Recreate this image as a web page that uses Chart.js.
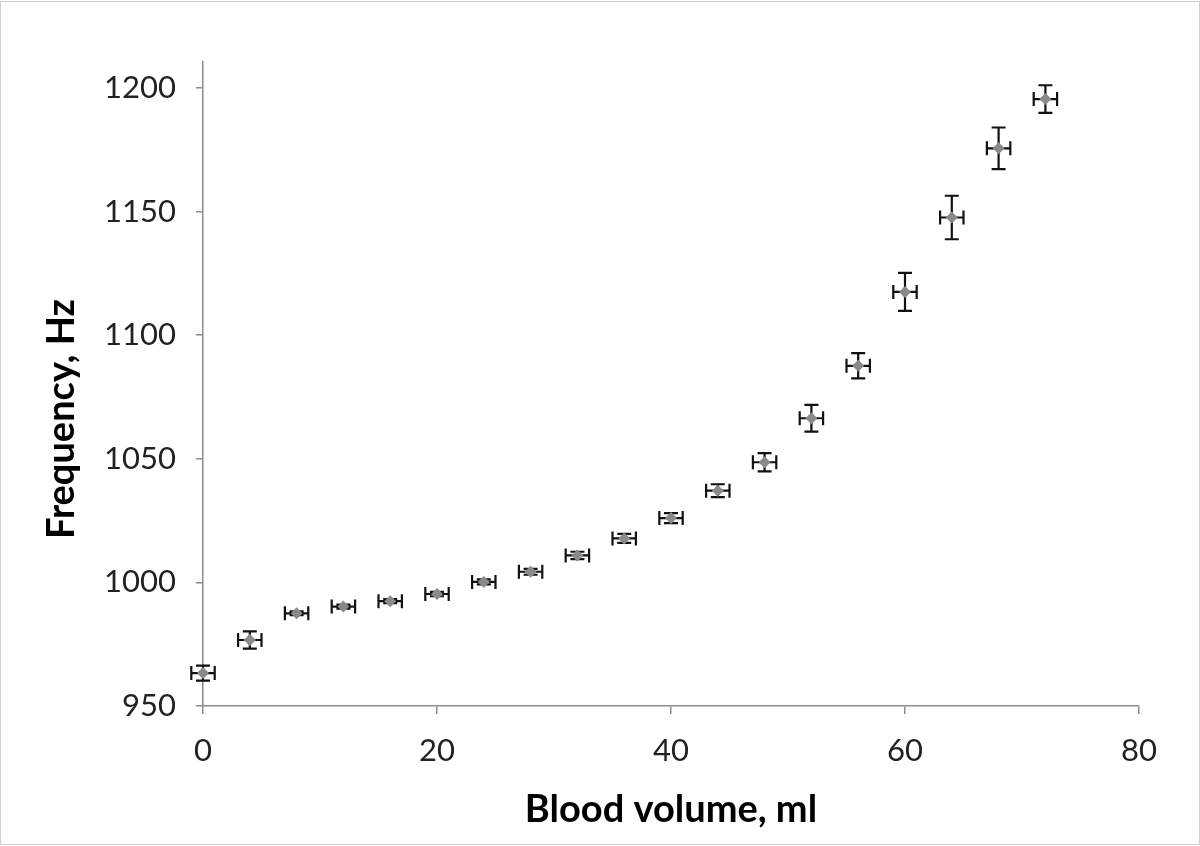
<!DOCTYPE html>
<html>
<head>
<meta charset="utf-8">
<script src="https://cdn.jsdelivr.net/npm/chart.js@4"></script>
<style>
  html, body { margin: 0; padding: 0; background: #fff; }
  canvas { display: block; }
</style>
</head>
<body>
<canvas id="bloodChart" width="1200" height="846"></canvas>
<script>
// Blood volume (ml) vs frequency (Hz), with error bars
const volumes = [0, 4, 8, 12, 16, 20, 24, 28, 32, 36, 40, 44, 48, 52, 56, 60, 64, 68, 72];
const frequencies = [963.3, 976.7, 987.5, 990.2, 992.4, 995.3, 1000.2, 1004.3, 1010.9, 1017.8, 1026.0,
    1037.1, 1048.6, 1066.4, 1087.6, 1117.5, 1147.6, 1175.6, 1195.5];
const freqErrors = [3.0, 3.5, 0.8, 0.8, 0.8, 0.9, 1.0, 1.2, 1.5, 1.8, 2.0,
    2.6, 3.7, 5.4, 5.1, 7.7, 8.8, 8.4, 5.6];
const volumeErrors = [1.0, 1.0, 1.0, 1.0, 1.0, 1.0, 1.0, 1.0, 1.0, 1.0, 1.0,
    1.0, 1.0, 1.0, 1.0, 1.0, 1.0, 1.0, 1.0];
const xTicks = [0, 20, 40, 60, 80];
const yTicks = [950, 1000, 1050, 1100, 1150, 1200];

const xTitle = "Blood volume, ml";
const yTitle = "Frequency, Hz";
const fontFamily = "Lato, 'Liberation Sans', sans-serif";
const axisColor = "#8c8c8c";

const points = volumes.map((v, i) => ({ x: v, y: frequencies[i] }));

// draws the x and y error bars under the points
const errorBars = {
    id: 'errorBars',
    beforeDatasetsDraw(chart) {
        const ctx = chart.ctx;
        const xs = chart.scales.x;
        const ys = chart.scales.y;
        const cap = 7;
        ctx.save();
        ctx.strokeStyle = "#111";
        ctx.lineWidth = 2.2;
        volumes.forEach((v, i) => {
            const px = xs.getPixelForValue(v);
            const py = ys.getPixelForValue(frequencies[i]);
            const top = ys.getPixelForValue(frequencies[i] + freqErrors[i]);
            const bot = ys.getPixelForValue(frequencies[i] - freqErrors[i]);
            const lft = xs.getPixelForValue(v - volumeErrors[i]);
            const rgt = xs.getPixelForValue(v + volumeErrors[i]);
            ctx.beginPath();
            ctx.moveTo(px, top); ctx.lineTo(px, bot);
            ctx.moveTo(px - cap, top); ctx.lineTo(px + cap, top);
            ctx.moveTo(px - cap, bot); ctx.lineTo(px + cap, bot);
            ctx.moveTo(lft, py); ctx.lineTo(rgt, py);
            ctx.moveTo(lft, py - cap); ctx.lineTo(lft, py + cap);
            ctx.moveTo(rgt, py - cap); ctx.lineTo(rgt, py + cap);
            ctx.stroke();
        });
        ctx.restore();
    }
};

// y title drawn by hand so it can sit where the original has it
const sideTitle = {
    id: 'sideTitle',
    afterDraw(chart) {
        const ctx = chart.ctx;
        ctx.save();
        ctx.translate(62, 419);
        ctx.rotate(-Math.PI / 2);
        ctx.font = "bold 38px " + fontFamily;
        ctx.fillStyle = "#000";
        ctx.textAlign = "center";
        ctx.textBaseline = "middle";
        ctx.fillText(yTitle, 0, 0);
        ctx.restore();
        // light frame round the picture
        ctx.save();
        ctx.strokeStyle = "#d0d0d0";
        ctx.lineWidth = 1;
        ctx.strokeRect(0.5, 1.5, chart.width - 1, chart.height - 3);
        ctx.restore();
    }
};

const ctx = document.getElementById('bloodChart').getContext('2d');
new Chart(ctx, {
    type: 'scatter',
    data: {
        datasets: [{
            data: points,
            clip: false,
            pointStyle: 'rectRot',
            pointRadius: 6,
            pointHoverRadius: 6,
            backgroundColor: "#8a8a8a",
            borderColor: "#8a8a8a",
            borderWidth: 0
        }]
    },
    options: {
        responsive: false,
        animation: false,
        layout: { padding: { top: 62, right: 61, left: 0, bottom: 0 } },
        plugins: {
            legend: { display: false },
            tooltip: { enabled: false }
        },
        scales: {
            x: {
                type: 'linear',
                min: 0,
                max: 80,
                afterBuildTicks: s => { s.ticks = xTicks.map(v => ({ value: v })); },
                afterFit: s => { s.height = 140; },
                grid: { drawOnChartArea: false, drawTicks: true, tickLength: 8, color: axisColor, lineWidth: 1.5 },
                border: { display: true, color: axisColor, width: 1.5 },
                ticks: { color: "#222", padding: 18, font: { family: fontFamily, size: 31 } },
                title: {
                    display: true,
                    text: xTitle,
                    color: "#000",
                    font: { family: fontFamily, size: 38, weight: 'bold' },
                    padding: { top: 0, bottom: 13 }
                }
            },
            y: {
                type: 'linear',
                min: 950,
                max: 1210.5,
                afterBuildTicks: s => { s.ticks = yTicks.map(v => ({ value: v })); },
                afterFit: s => { s.width = 203; },
                grid: { drawOnChartArea: false, drawTicks: true, tickLength: 7, color: axisColor, lineWidth: 1.5 },
                border: { display: true, color: axisColor, width: 1.5 },
                ticks: {
                    color: "#222",
                    padding: 20,
                    font: { family: fontFamily, size: 31 },
                    callback: v => String(v)
                }
            }
        }
    },
    plugins: [errorBars, sideTitle]
});
</script>
</body>
</html>
